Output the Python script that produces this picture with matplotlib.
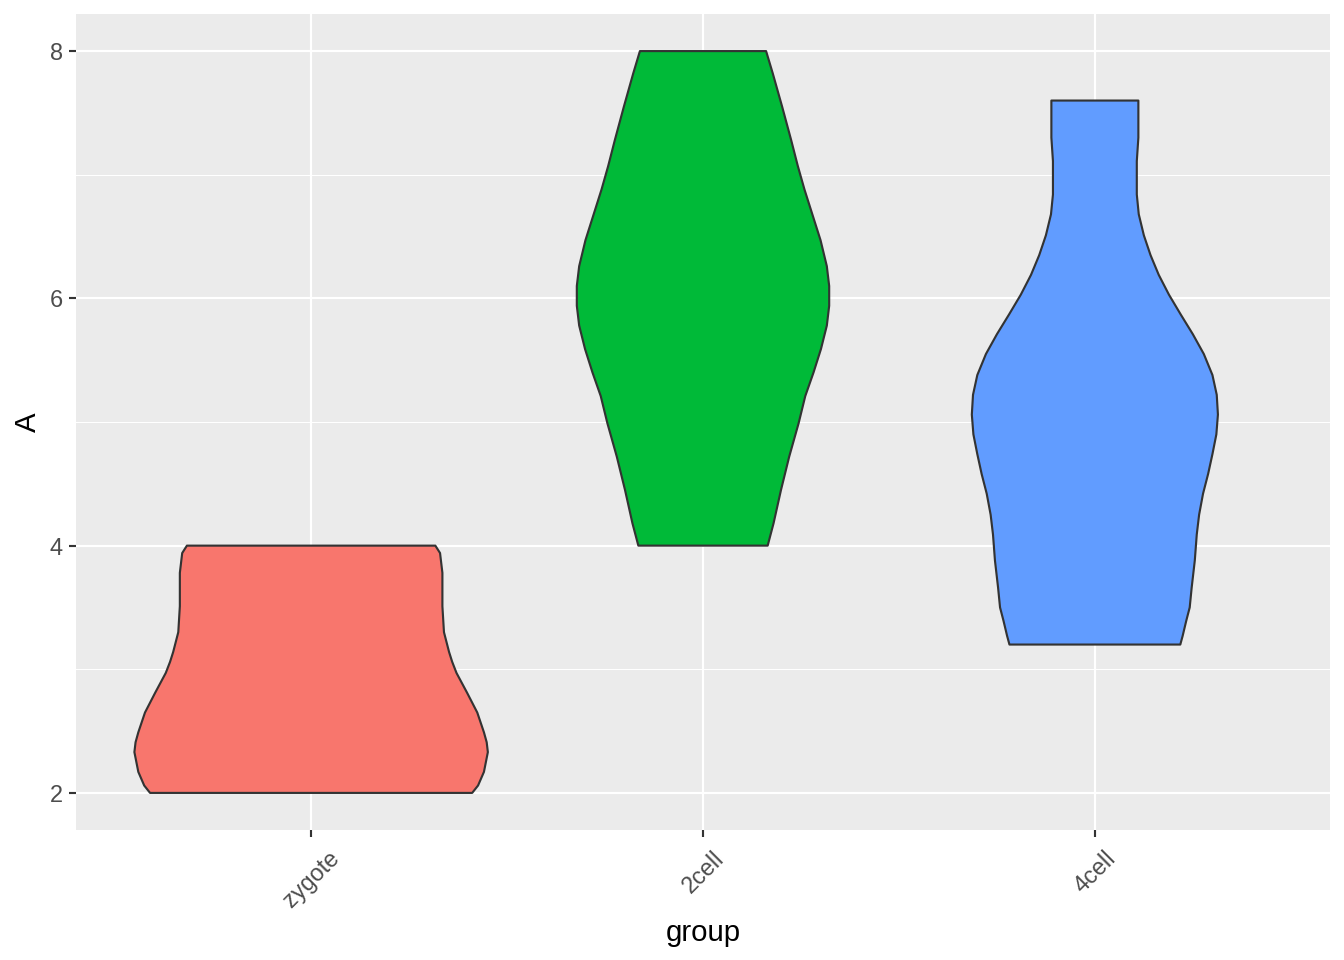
#!/usr/bin/env python3
import numpy as np
import matplotlib
matplotlib.use("Agg")
import matplotlib.pyplot as plt

plt.rcParams["font.family"] = ["Liberation Sans", "DejaVu Sans"]

# categories and fill colours (ggplot default hue palette)
groups = ["zygote", "2cell", "4cell"]
fills = ["#F8766D", "#00BA38", "#619CFF"]

# violin outlines: value of A and half-width (in category units)
zygote_y = [2.00, 2.06, 2.17, 2.33, 2.41, 2.49, 2.65, 2.73, 2.81, 2.97, 3.06, 3.14,
            3.30, 3.51, 3.78, 3.94, 4.00]
zygote_hw = [0.411, 0.426, 0.441, 0.451, 0.448, 0.441, 0.424, 0.411, 0.398, 0.371,
             0.360, 0.352, 0.339, 0.335, 0.335, 0.329, 0.317]

cell2_y = [4.00, 4.18, 4.45, 4.72, 4.99, 5.21, 5.40, 5.59, 5.78, 5.94, 6.10, 6.26,
           6.47, 6.69, 6.88, 7.07, 7.28, 7.55, 7.82, 8.00]
cell2_hw = [0.165, 0.180, 0.199, 0.220, 0.244, 0.261, 0.282, 0.301, 0.316, 0.322,
            0.322, 0.316, 0.300, 0.278, 0.259, 0.242, 0.225, 0.202, 0.178, 0.161]

cell4_y = [3.20, 3.27, 3.39, 3.50, 3.66, 3.88, 4.09, 4.25, 4.42, 4.58, 4.74, 4.90,
           5.06, 5.22, 5.38, 5.55, 5.71, 5.87, 6.03, 6.19, 6.35, 6.51, 6.68, 6.84,
           7.11, 7.30, 7.60]
cell4_hw = [0.218, 0.224, 0.233, 0.242, 0.247, 0.255, 0.260, 0.266, 0.276, 0.289,
            0.300, 0.310, 0.314, 0.311, 0.300, 0.278, 0.250, 0.219, 0.189, 0.163,
            0.142, 0.125, 0.112, 0.107, 0.107, 0.111, 0.111]

profiles = [(zygote_y, zygote_hw), (cell2_y, cell2_hw), (cell4_y, cell4_hw)]

panel_bg = "#EBEBEB"
text_col = "#4D4D4D"
dark = "#333333"

fig = plt.figure(figsize=(7, 5), dpi=192)
ax = fig.add_axes([76 / 1344, 1 - 830 / 960, (1330 - 76) / 1344, (830 - 14) / 960])
ax.set_facecolor(panel_bg)

# grid
for v in [3, 5, 7]:
    ax.axhline(v, color="white", lw=0.4, zorder=0)
for v in [2, 4, 6, 8]:
    ax.axhline(v, color="white", lw=0.8, zorder=0)
for i in range(len(groups)):
    ax.axvline(i + 1, color="white", lw=0.8, zorder=0)

for i, ((ys, hw), col) in enumerate(zip(profiles, fills)):
    ys = np.asarray(ys)
    hw = np.asarray(hw)
    cx = i + 1
    xs = np.concatenate([cx + hw, (cx - hw)[::-1]])
    yy = np.concatenate([ys, ys[::-1]])
    ax.fill(xs, yy, facecolor=col, edgecolor=dark, linewidth=0.8,
            joinstyle="round", zorder=2)

ax.set_xlim(0.4, 3.6)
ax.set_ylim(1.7, 8.3)
ax.set_xticks([1, 2, 3])
ax.set_xticklabels(groups, rotation=45, ha="center", va="top")
ax.set_yticks([2, 4, 6, 8])
ax.set_yticklabels(["2", "4", "6", "8"])

for s in ax.spines.values():
    s.set_visible(False)

ax.tick_params(axis="both", colors=dark, length=2.75, width=0.8,
               labelsize=8.8, labelcolor=text_col)
ax.tick_params(axis="x", pad=3.5)
ax.tick_params(axis="y", pad=2.2)

ax.set_xlabel("group", fontsize=11, color="black", labelpad=2.75)
ax.set_ylabel("A", fontsize=11, color="black", labelpad=2.75)

fig.savefig("out.png", dpi=192, facecolor="white")
